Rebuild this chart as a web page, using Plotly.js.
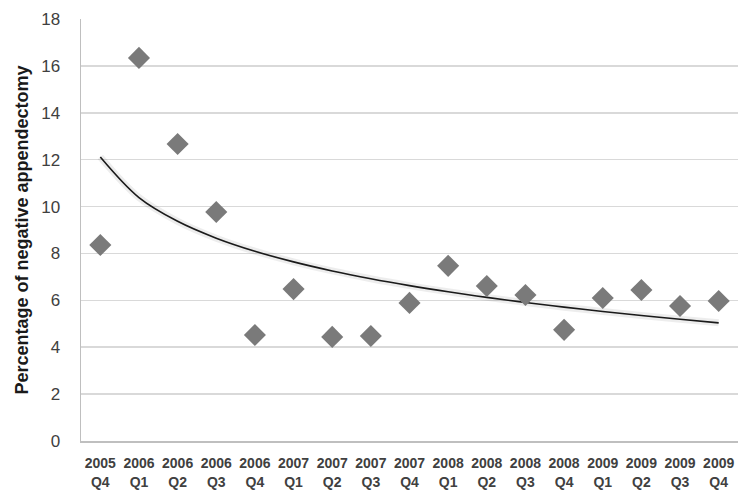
<!DOCTYPE html>
<html>
<head>
<meta charset="utf-8">
<script src="https://cdn.plot.ly/plotly-3.0.1.min.js"></script>
<style>
  html, body { margin: 0; padding: 0; background: #fff; }
  #chart { width: 751px; height: 501px; }
</style>
</head>
<body>
<div id="chart"></div>
<script>
// Quarters and negative appendectomy rate (%)
const quarters = ['2005<br>Q4', '2006<br>Q1', '2006<br>Q2', '2006<br>Q3', '2006<br>Q4',
  '2007<br>Q1', '2007<br>Q2', '2007<br>Q3', '2007<br>Q4', '2008<br>Q1', '2008<br>Q2',
  '2008<br>Q3', '2008<br>Q4', '2009<br>Q1', '2009<br>Q2', '2009<br>Q3', '2009<br>Q4'];
const rate = [8.36, 16.34, 12.67, 9.77, 4.52, 6.48, 4.44, 4.48, 5.89, 7.47, 6.61,
  6.23, 4.74, 6.10, 6.44, 5.76, 5.97];
const yTicks = [0, 2, 4, 6, 8, 10, 12, 14, 16, 18];

// Logarithmic trendline (least squares of y on ln(x)), like Excel
const lnx = rate.map((_, i) => Math.log(i + 1));
const n = rate.length;
const mx = lnx.reduce((a, b) => a + b, 0) / n;
const my = rate.reduce((a, b) => a + b, 0) / n;
let sxy = 0, sxx = 0;
for (let i = 0; i < n; i++) {
  sxy += (lnx[i] - mx) * (rate[i] - my);
  sxx += (lnx[i] - mx) * (lnx[i] - mx);
}
const slope = sxy / sxx;
const icpt = my - slope * mx;
const trend = lnx.map(v => icpt + slope * v);

const traces = [
  {
    x: quarters, y: trend, type: 'scatter', mode: 'lines',
    line: { color: 'rgba(0,0,0,0.07)', width: 7, shape: 'spline' },
    hoverinfo: 'skip', showlegend: false
  },
  {
    x: quarters, y: trend, type: 'scatter', mode: 'lines',
    line: { color: '#1a1a1a', width: 1.6, shape: 'spline' },
    showlegend: false
  },
  {
    x: quarters, y: rate, type: 'scatter', mode: 'markers',
    marker: { symbol: 'diamond', size: 17, color: '#7a7a7a', line: { width: 0 } },
    showlegend: false
  }
];

const layout = {
  width: 751, height: 501,
  margin: { l: 81, r: 13, t: 19, b: 60 },
  paper_bgcolor: '#fff', plot_bgcolor: '#fff',
  font: { family: 'Liberation Sans, Arial, sans-serif', color: '#404040' },
  showlegend: false,
  xaxis: {
    type: 'category',
    range: [-0.5, 16.5],
    showgrid: false,
    showline: true, linecolor: '#bfbfbf', linewidth: 1.5,
    ticks: '', zeroline: false, ticklabelstandoff: 9,
    tickfont: { size: 14, color: '#404040', family: 'Liberation Sans, Arial, sans-serif', weight: 'bold' }
  },
  yaxis: {
    range: [0, 18],
    tickvals: yTicks,
    showgrid: true, gridcolor: '#d9d9d9', gridwidth: 1.5,
    showline: true, linecolor: '#bfbfbf', linewidth: 1.5,
    zeroline: false, ticks: '', ticklabelstandoff: 16,
    tickfont: { size: 17, color: '#404040' },
    title: {
      text: '<b>Percentage of negative appendectomy</b>',
      font: { size: 18, color: '#1a1a1a' },
      standoff: 8
    }
  }
};

Plotly.newPlot('chart', traces, layout, { displayModeBar: false, staticPlot: true });
</script>
</body>
</html>
